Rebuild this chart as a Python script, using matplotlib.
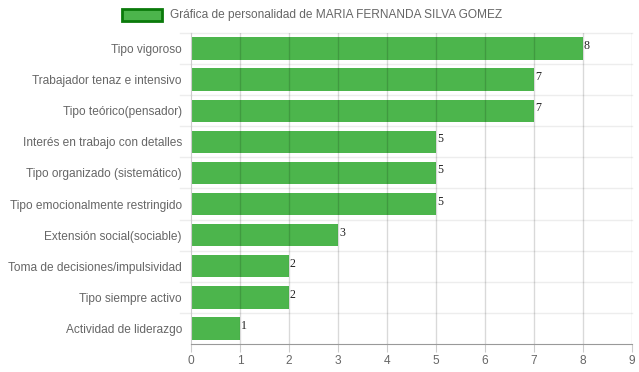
import matplotlib
matplotlib.use("Agg")
import matplotlib.pyplot as plt
from matplotlib.patches import Rectangle

categories = [
    "Tipo vigoroso",
    "Trabajador tenaz e intensivo",
    "Tipo teórico(pensador)",
    "Interés en trabajo con detalles",
    "Tipo organizado (sistemático)",
    "Tipo emocionalmente restringido",
    "Extensión social(sociable)",
    "Toma de decisiones/impulsividad",
    "Tipo siempre activo",
    "Actividad de liderazgo",
]
values = [8, 7, 7, 5, 5, 5, 3, 2, 2, 1]
x_ticks = list(range(0, 10))
legend_label = "Gráfica de personalidad de MARIA FERNANDA SILVA GOMEZ"

W, H = 639, 372
fig = plt.figure(figsize=(W / 100, H / 100), dpi=100)
ax = fig.add_axes([191 / W, 1 - 344 / H, (632 - 191) / W, (344 - 33) / H])

plt.rcParams['font.family'] = ['Liberation Sans', 'DejaVu Sans']
fs = 8.6

n = len(categories)
ypos = list(range(n))
ax.barh(ypos, values, height=0.72, color='#4cb54c', zorder=2)

ax.set_xlim(0, 9)
ax.set_ylim(n - 0.5, -0.5)

# vertical grid at ticks
for x in x_ticks[1:]:
    ax.axvline(x, color='#000000', alpha=0.15, lw=1, zorder=3)
# horizontal lines between categories, with a short tick to the left
for i in range(n):
    ax.axhline(i - 0.5, color='#000000', alpha=0.07, lw=1, zorder=1, clip_on=False)
    ax.plot([-0.22, 0], [i - 0.5, i - 0.5], color='#000000', alpha=0.07, lw=1, clip_on=False)

ax.set_xticks(x_ticks)
ax.set_xticklabels([str(t) for t in x_ticks], family='Liberation Sans', fontsize=fs, color='#666666')
ax.set_yticks(ypos)
ax.set_yticklabels(categories, family='Liberation Sans', fontsize=fs, color='#666666')
ax.tick_params(axis='x', length=6, color='#cccccc', pad=2)
ax.tick_params(axis='y', length=0, pad=6.5)

for s in ['top', 'right']:
    ax.spines[s].set_visible(False)
ax.spines['left'].set_color('#cccccc')
ax.spines['bottom'].set_color('#999999')

for y, v in zip(ypos, values):
    ax.text(v + 0.02, y - 0.08, str(v), family='Liberation Serif', fontsize=fs,
            color='#222222', va='center', ha='left', zorder=4)

# legend
fig.add_artist(Rectangle((122 / W, 1 - 21 / H), 40 / W, 12 / H, transform=fig.transFigure,
                         facecolor='#4cb54c', edgecolor='#0a7a0a', lw=2))
fig.text(170 / W, 1 - 15 / H, legend_label, family='Liberation Sans', fontsize=fs,
         color='#666666', va='center', ha='left')

fig.savefig("out.png", dpi=100)
